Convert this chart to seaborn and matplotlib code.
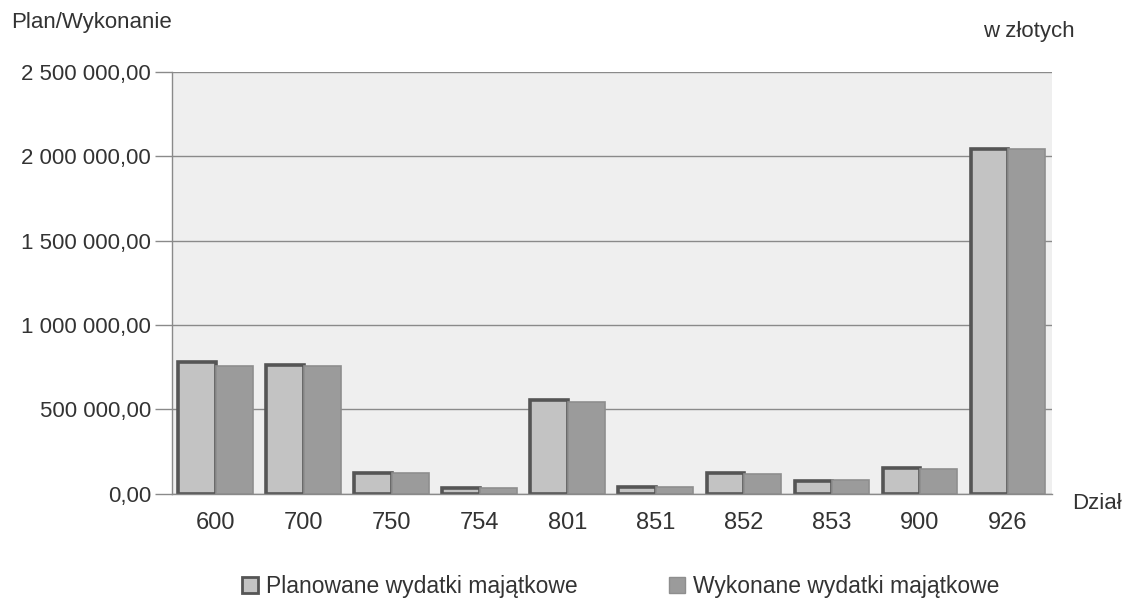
import numpy as np
import pandas as pd
import matplotlib
matplotlib.use("Agg")
import matplotlib.pyplot as plt
import seaborn as sns
from matplotlib.ticker import FuncFormatter

# data (PLN)
dzialy = ["600", "700", "750", "754", "801", "851", "852", "853", "900", "926"]
planowane = [780000, 765000, 125000, 35000, 555000, 40000, 125000, 78000, 155000, 2045000]
wykonane = [760000, 760000, 122000, 33000, 545000, 38000, 115000, 80000, 150000, 2045000]
serie = ["Planowane wydatki majątkowe", "Wykonane wydatki majątkowe"]

df = pd.DataFrame({
    "dzial": dzialy * 2,
    "kwota": planowane + wykonane,
    "seria": [serie[0]] * len(dzialy) + [serie[1]] * len(dzialy),
})

sns.set_theme(style="white")
plt.rcParams["font.family"] = ["Liberation Sans", "DejaVu Sans"]
txt = "#333333"

fig = plt.figure(figsize=(11.3, 6.03), dpi=100)
ax = fig.add_axes([0.152, 0.181, 0.779, 0.700])
ax.set_facecolor("#efefef")

sns.barplot(data=df, x="dzial", y="kwota", hue="seria", order=dzialy,
            hue_order=serie, palette=["#c3c3c3", "#9b9b9b"],
            width=0.85, ax=ax, legend=False)

# edges: plan bars dark outline, executed bars soft outline
for cont, ec, lw in zip(ax.containers, ["#555555", "#8e8e8e"], [2.6, 1.2]):
    for p in cont.patches:
        p.set_edgecolor(ec)
        p.set_linewidth(lw)

ax.set_ylim(0, 2500000)
ax.set_yticks(np.arange(0, 2500001, 500000))
ax.yaxis.set_major_formatter(FuncFormatter(
    lambda v, _: f"{v:,.2f}".replace(",", " ").replace(".", ",")))
ax.yaxis.grid(True, color="#8a8a8a", linewidth=1.0)
ax.set_axisbelow(True)

for s in ["top", "right"]:
    ax.spines[s].set_visible(False)
for s in ["left", "bottom"]:
    ax.spines[s].set_color("#8a8a8a")
    ax.spines[s].set_linewidth(1.0)

ax.tick_params(axis="y", length=12, color="#8a8a8a", width=1.0,
               labelsize=16, labelcolor=txt, pad=3, left=True)
ax.tick_params(axis="x", length=0, labelsize=17, labelcolor=txt, pad=13)
ax.set_xlabel("")
ax.set_ylabel("")

fig.text(0.010, 0.963, "Plan/Wykonanie", fontsize=16, color=txt, va="center")
fig.text(0.870, 0.947, "w złotych", fontsize=16, color=txt, va="center")
fig.text(0.949, 0.165, "Dział", fontsize=16, color=txt, va="center")

handles = [
    plt.Rectangle((0, 0), 1, 1, facecolor="#c3c3c3", edgecolor="#555555", linewidth=2.0),
    plt.Rectangle((0, 0), 1, 1, facecolor="#9b9b9b", edgecolor="#8e8e8e", linewidth=1.0),
]
fig.legend(handles, serie, loc="center left", bbox_to_anchor=(0.214, 0.028), ncol=2,
           frameon=False, fontsize=16.5, handlelength=0.7, handleheight=0.7,
           handletextpad=0.35, columnspacing=4.0, labelcolor=txt,
           borderaxespad=0, borderpad=0)

fig.savefig("out.png", dpi=100, facecolor="white")
